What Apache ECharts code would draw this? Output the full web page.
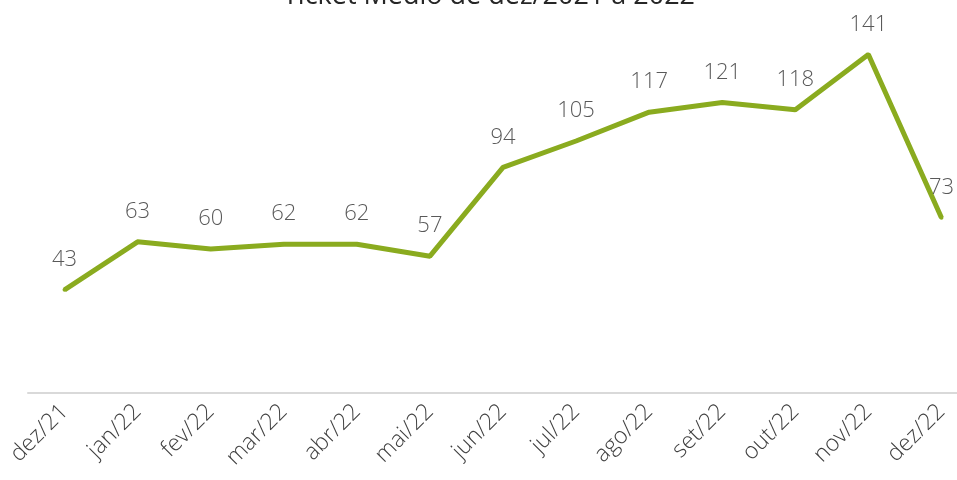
<!DOCTYPE html>
<html>
<head>
<meta charset="utf-8">
<script src="https://cdn.jsdelivr.net/npm/echarts@6/dist/echarts.min.js"></script>
<style>
  html, body { margin: 0; padding: 0; background: #fff; overflow: hidden; }
  #chartData { width: 978px; height: 480px; }
</style>
</head>
<body>
<div id="chartData"></div>
<script>
// 月份和数值
var meses = ['dez/21', 'jan/22', 'fev/22', 'mar/22', 'abr/22', 'mai/22', 'jun/22',
    'jul/22', 'ago/22', 'set/22', 'out/22', 'nov/22', 'dez/22'];
var ticketMedio = [43, 63, 60, 62, 62, 57, 94, 105, 117, 121, 118, 141, 73];
var titulo = 'Ticket Médio de dez/2021 a 2022';

var myChart = echarts.init(document.getElementById('chartData'));

var option = {
    animation: false,
    title: {
        text: titulo,
        left: 'center',
        top: -22,
        textStyle: {
            fontFamily: 'Open Sans',
            fontWeight: 'normal',
            fontSize: 27,
            color: '#262626'
        }
    },
    grid: {
        left: 28,
        right: 0,
        top: 9,
        bottom: 87
    },
    xAxis: {
        type: 'category',
        boundaryGap: true,
        data: meses,
        axisLine: {
            lineStyle: { color: '#d9d9d9', width: 2 }
        },
        axisTick: { show: false },
        axisLabel: {
            interval: 0,
            rotate: 45,
            margin: 15,
            fontFamily: 'Open Sans',
            fontWeight: 300,
            fontSize: 23,
            color: '#404040'
        }
    },
    yAxis: {
        type: 'value',
        min: 0,
        max: 160,
        show: false,
        splitLine: { show: false }
    },
    series: [{
        name: 'Ticket Médio',
        type: 'line',
        data: ticketMedio,
        symbol: 'circle',
        symbolSize: 4,
        showSymbol: true,
        itemStyle: { color: '#8aab1f', borderWidth: 0 },
        lineStyle: { color: '#8aab1f', width: 5 },
        labelLayout: { hideOverlap: false },
        label: {
            show: true,
            position: 'top',
            distance: 17,
            fontFamily: 'Open Sans',
            fontWeight: 300,
            fontSize: 22,
            color: '#595959'
        }
    }]
};

myChart.setOption(option);
</script>
</body>
</html>
